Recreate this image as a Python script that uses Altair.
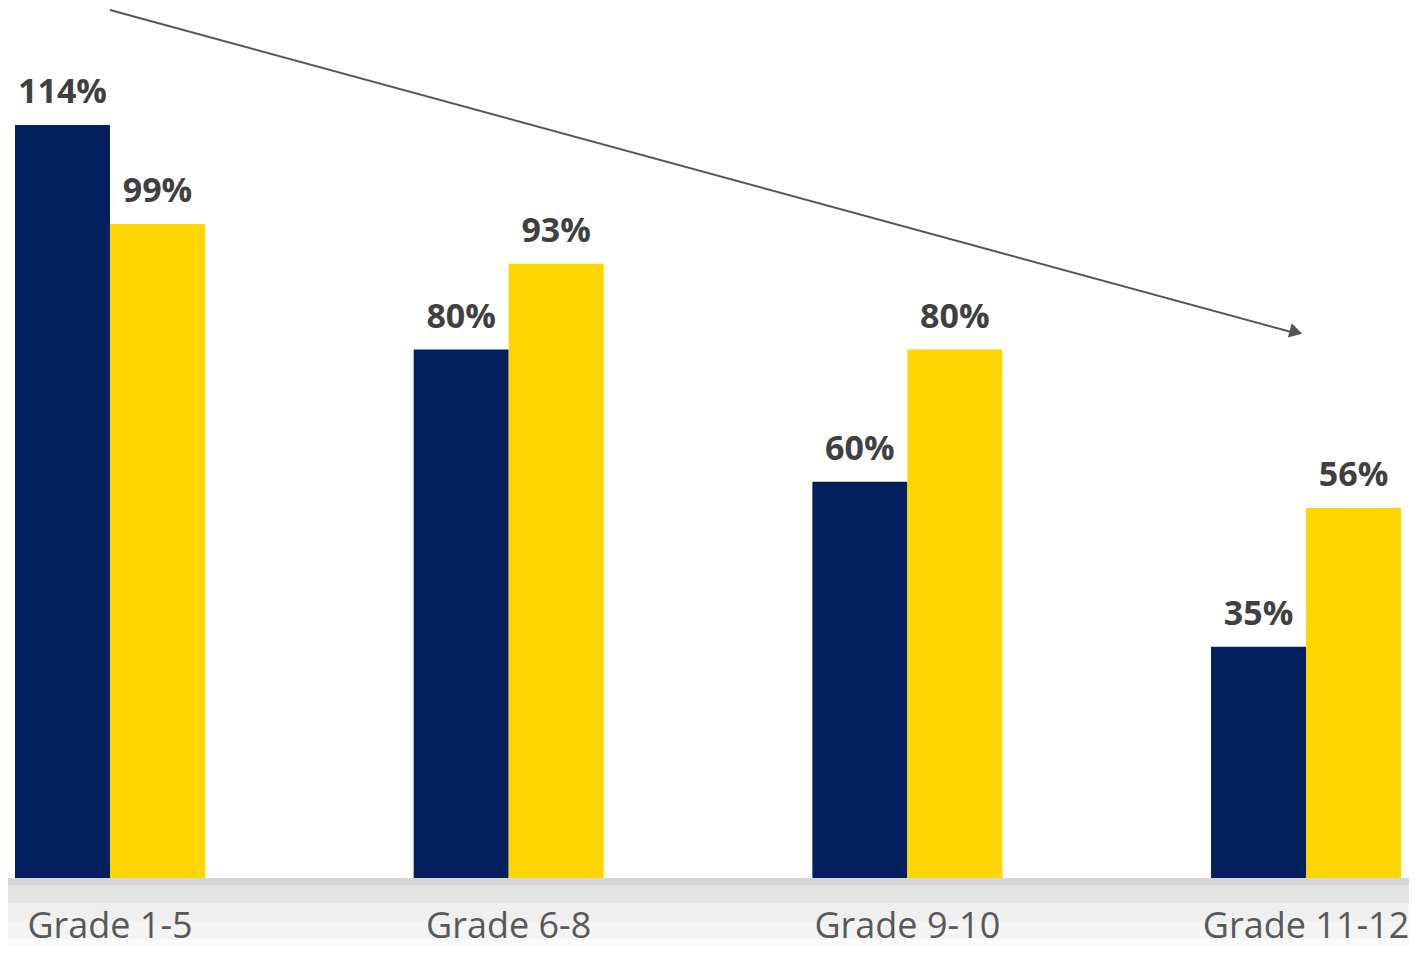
import altair as alt
import pandas as pd

grades = ["Grade 1-5", "Grade 6-8", "Grade 9-10", "Grade 11-12"]
series = ["A", "B"]
values_a = [114, 80, 60, 35]
values_b = [99, 93, 80, 56]
labels_a = ["114%", "80%", "60%", "35%"]
labels_b = ["99%", "93%", "80%", "56%"]

rows = []
for g, va, vb, la, lb in zip(grades, values_a, values_b, labels_a, labels_b):
    rows.append({"grade": g, "series": "A", "value": va, "label": la})
    rows.append({"grade": g, "series": "B", "value": vb, "label": lb})
df = pd.DataFrame(rows)

FONT = "Open Sans"
W, H = 1386, 870

xscale = alt.Scale(domain=grades, paddingInner=0.5235, paddingOuter=0)
yscale = alt.Scale(domain=[0, 131.7], nice=False, zero=True)
color = alt.Scale(domain=series, range=["#02205E", "#FFD500"])

base = alt.Chart(df)

# bottom grey band (decorative)
band_cols = ["#d6d6d6", "#e3e3e3", "#efefef", "#f4f4f4", "#fafafa"]
band_edges = [870, 877, 895, 913, 931, 950]
band_layers = []
for i, c in enumerate(band_cols):
    band_layers.append(
        alt.Chart(pd.DataFrame({"k": [0]})).mark_rect(color=c, clip=False).encode(
            x=alt.value(-10), x2=alt.value(W + 20),
            y=alt.value(band_edges[i]), y2=alt.value(band_edges[i + 1])
        )
    )

bars = base.mark_bar().encode(
    x=alt.X("grade:N", scale=xscale, sort=grades,
            axis=alt.Axis(title=None, labelAngle=0, domain=False, ticks=False,
                          labelFont=FONT, labelFontSize=36, labelColor="#595959",
                          labelPadding=31, labelLimit=0, zindex=1)),
    xOffset=alt.XOffset("series:N", sort=series),
    y=alt.Y("value:Q", scale=yscale, axis=None),
    color=alt.Color("series:N", scale=color, legend=None),
)

text = base.mark_text(font=FONT, fontWeight="bold", fontSize=34, color="#404040",
                      baseline="alphabetic", dy=-22).encode(
    x=alt.X("grade:N", scale=xscale, sort=grades),
    xOffset=alt.XOffset("series:N", sort=series),
    y=alt.Y("value:Q", scale=yscale),
    text="label:N",
)

arrow_line = alt.Chart(pd.DataFrame({"k": [0]})).mark_rule(
    color="#555555", strokeWidth=2
).encode(
    x=alt.value(95), y=alt.value(2), x2=alt.value(1280), y2=alt.value(325)
)
arrow_head = alt.Chart(pd.DataFrame({"k": [0]})).mark_point(
    shape="triangle-right", filled=True, color="#555555", size=220, angle=15.2, opacity=1
).encode(
    x=alt.value(1281), y=alt.value(324)
)

chart = alt.layer(*band_layers, bars, text, arrow_line, arrow_head).properties(
    width=W, height=H,
    padding={"left": 7, "top": 0, "right": 8, "bottom": 69},
    autosize=alt.AutoSizeParams(type="none"),
    background="white",
).configure_view(stroke=None)

chart.save("out.html", embed_options={"renderer": "svg", "actions": False})
